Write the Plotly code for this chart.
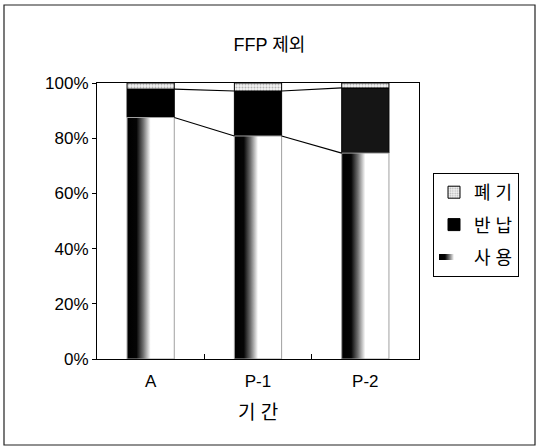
import plotly.graph_objects as go

# Share of each disposition per period (percent), stacked to 100%
periods = ["A", "P-1", "P-2"]
used = [87.5, 80.8, 74.6]        # 사용
returned = [10.3, 16.3, 23.6]    # 반납
discarded = [2.2, 2.9, 1.8]      # 폐기

series_names = ["사 용", "반 납", "폐 기"]
tick_labels = ["0%", "20%", "40%", "60%", "80%", "100%"]

W, H = 539, 448
ML, MR, MT, MB = 97, 120, 83, 89
PW, PH = W - ML - MR, H - MT - MB
BAR_W = 0.44
FONT = "Liberation Sans, Arial, Noto Sans CJK KR, sans-serif"

x_pos = list(range(len(periods)))
stack1 = [u + r for u, r in zip(used, returned)]

fig = go.Figure()

# "사용" segments: filled polygons with a left-to-right dark-to-white gradient
shade = [[0.0, "#000000"], [0.2, "#050505"], [0.34, "#6e6e6e"],
         [0.5, "#ffffff"], [1.0, "#ffffff"]]
for i, (xp, v) in enumerate(zip(x_pos, used)):
    x0, x1 = xp - BAR_W / 2, xp + BAR_W / 2
    fig.add_trace(go.Scatter(
        x=[x0, x1, x1, x0, x0], y=[0, 0, v, v, 0],
        mode="none", fill="toself",
        fillgradient=dict(type="horizontal", colorscale=shade),
        name=series_names[0], legendgroup="used", legendrank=3,
        showlegend=(i == 0), hoverinfo="skip",
    ))
    # thin outline of the segment
    fig.add_trace(go.Scatter(
        x=[x0, x1, x1, x0, x0], y=[0, 0, v, v, 0], mode="lines",
        line=dict(color="#a0a0a0", width=1), legendgroup="used",
        showlegend=False, hoverinfo="skip",
    ))

fig.add_trace(go.Bar(
    x=x_pos, y=returned, base=used, width=BAR_W,
    name=series_names[1], legendgroup="returned", legendrank=2,
    marker=dict(color=["#000000", "#000000", "#151515"],
                line=dict(color="#000000", width=1)),
))

fig.add_trace(go.Bar(
    x=x_pos, y=discarded, base=stack1, width=BAR_W,
    name=series_names[2], legendgroup="discarded", legendrank=1,
    marker=dict(color="#e6e6e6",
                pattern=dict(shape=".", fgcolor="#777777", bgcolor="#f2f2f2",
                             size=3, solidity=0.35),
                line=dict(color="#000000", width=1)),
))

# Series lines joining the segment tops of neighbouring bars
for level in (used, stack1):
    xs, ys = [], []
    for i in range(len(x_pos) - 1):
        xs += [x_pos[i] + BAR_W / 2, x_pos[i + 1] - BAR_W / 2, None]
        ys += [level[i], level[i + 1], None]
    fig.add_trace(go.Scatter(x=xs, y=ys, mode="lines",
                             line=dict(color="#000000", width=1.2),
                             showlegend=False, hoverinfo="skip"))

# Outer chart frame
fig.add_shape(type="rect", xref="paper", yref="paper",
              x0=(4 - ML) / PW, x1=(535 - ML) / PW,
              y0=(H - MB - 445) / PH, y1=(H - MB - 5) / PH,
              line=dict(color="#222222", width=1.2), layer="below")

fig.update_layout(
    width=W, height=H,
    margin=dict(l=ML, r=MR, t=MT, b=MB),
    paper_bgcolor="white", plot_bgcolor="white",
    barmode="overlay",
    font=dict(family=FONT, color="#000000", size=17),
    title=dict(text="FFP 제외", x=0.5, xref="container", xanchor="center",
               y=1 - 45 / H, yref="container", yanchor="middle",
               font=dict(size=18, family=FONT)),
    showlegend=True,
    legend=dict(x=(433 - ML) / PW, y=(H - MB - 173) / PH,
                xanchor="left", yanchor="top",
                traceorder="grouped", tracegroupgap=6,
                bordercolor="#000000", borderwidth=1,
                font=dict(size=18, family=FONT), bgcolor="white"),
    xaxis=dict(range=[-0.5, 2.5], tickmode="array", tickvals=x_pos,
               ticktext=periods, ticks="", showline=True, linecolor="#000000",
               linewidth=1.2, mirror=True, showgrid=False, zeroline=False,
               tickfont=dict(size=17), ticklabelstandoff=6,
               minor=dict(tickvals=[0.5, 1.5], ticks="inside", ticklen=5,
                          tickcolor="#000000", showgrid=False),
               title=dict(text="기 간", standoff=16, font=dict(size=19))),
    yaxis=dict(range=[0, 100], tickmode="array",
               tickvals=[0, 20, 40, 60, 80, 100], ticktext=tick_labels,
               ticks="outside", ticklen=4, tickcolor="#000000",
               showline=True, linecolor="#000000", linewidth=1.2, mirror=True,
               showgrid=False, zeroline=False, tickfont=dict(size=17)),
)

fig.write_html("out.html")
